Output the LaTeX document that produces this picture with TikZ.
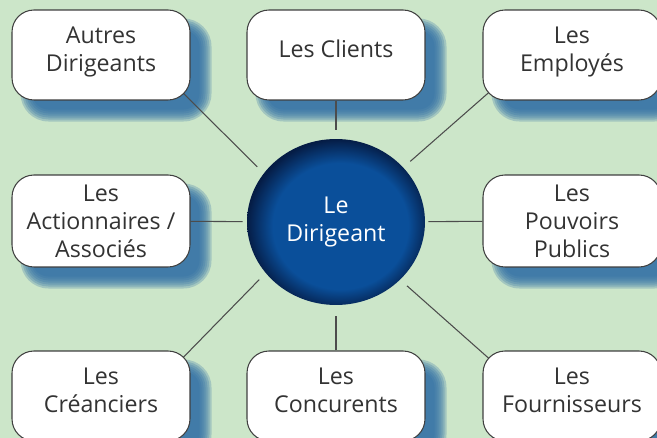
\documentclass[tikz,border=0pt]{standalone}
\usepackage{fontspec}
\setmainfont{Open Sans}
\usepackage{xcolor}
\usepackage{tikz}
\usetikzlibrary{shapes.geometric,backgrounds}

\definecolor{bggreen}{HTML}{CCE6C9}
\definecolor{shadowblue}{HTML}{2F6EA5}
\definecolor{dirblue}{HTML}{0A4F9A}
\definecolor{dirdark}{HTML}{051C45}
\pgfdeclareradialshading{dirshade}{\pgfpoint{2bp}{-2bp}}{color(0bp)=(dirblue); color(19bp)=(dirblue); color(26bp)=(dirdark); color(50bp)=(dirdark)}

\begin{document}
\begin{tikzpicture}[
    x=0.02cm, y=-0.02cm,
    party/.style={rectangle, rounded corners=0.44cm, draw=black!75, line width=0.6pt, fill=white, text=black!80, minimum width=3.56cm, minimum height=1.8cm, inner sep=2pt, text depth=7pt, align=center, font=\fontsize{13.2}{15.9}\selectfont},
    boss/.style={ellipse, shade, shading=dirshade, minimum width=3.56cm, minimum height=3.32cm, align=center, text=white, text depth=3pt, font=\fontsize{13.2}{15.9}\selectfont},
    link/.style={draw=black!70, line width=0.6pt},
]
\useasboundingbox (0,0) rectangle (657,438);

% Centre
\node[boss] (dir) at (336,222) {Le\\Dirigeant};

% Outer ring
\node[party] (autres) at (101,55) {Autres\\Dirigeants};
\node[party] (clients) at (336,55) {Les Clients};
\node[party] (employes) at (572,55) {Les\\Employés};
\node[party, minimum height=1.84cm, text depth=0pt] (action) at (101,221) {Les\\Actionnaires /\\Associés};
\node[party, minimum height=1.84cm, text depth=0pt] (pouvoirs) at (572,221) {Les\\Pouvoirs\\Publics};
\node[party] (creanciers) at (101,396) {Les\\Créanciers};
\node[party] (concur) at (336,396) {Les\\Concurents};
\node[party] (fourn) at (572,396) {Les\\Fournisseurs};

\begin{scope}[on background layer]
\fill[bggreen] (0,0) rectangle (657,438);

% soft shadows
\foreach \n in {autres,clients,employes,action,pouvoirs,creanciers,concur,fourn}
  \foreach \b in {-6,-4,...,6}
    \fill[shadowblue, opacity=0.26, rounded corners={0.44cm+\b*0.02cm}] ([shift={(15-\b,15-\b)}]\n.north west) rectangle ([shift={(15+\b,15+\b)}]\n.south east);

% Links
\draw[link, shorten >=0.18cm] (clients) -- (dir);
\draw[link, shorten >=0.08cm] (action) -- (dir);
\draw[link, shorten >=0.06cm] (pouvoirs) -- (dir);
\draw[link, shorten >=0.22cm] (concur) -- (dir);
\draw[link, shorten >=0.18cm] ([shift={(-20,-20)}]autres.south east) -- (dir.146);
\draw[link, shorten >=0.18cm] ([shift={(20,-20)}]employes.south west) -- (dir.39);
\draw[link, shorten >=0.18cm] ([shift={(-20,20)}]creanciers.north east) -- (dir.216);
\draw[link, shorten >=0.18cm] ([shift={(20,20)}]fourn.north west) -- (dir.318);
\end{scope}

\end{tikzpicture}
\end{document}
